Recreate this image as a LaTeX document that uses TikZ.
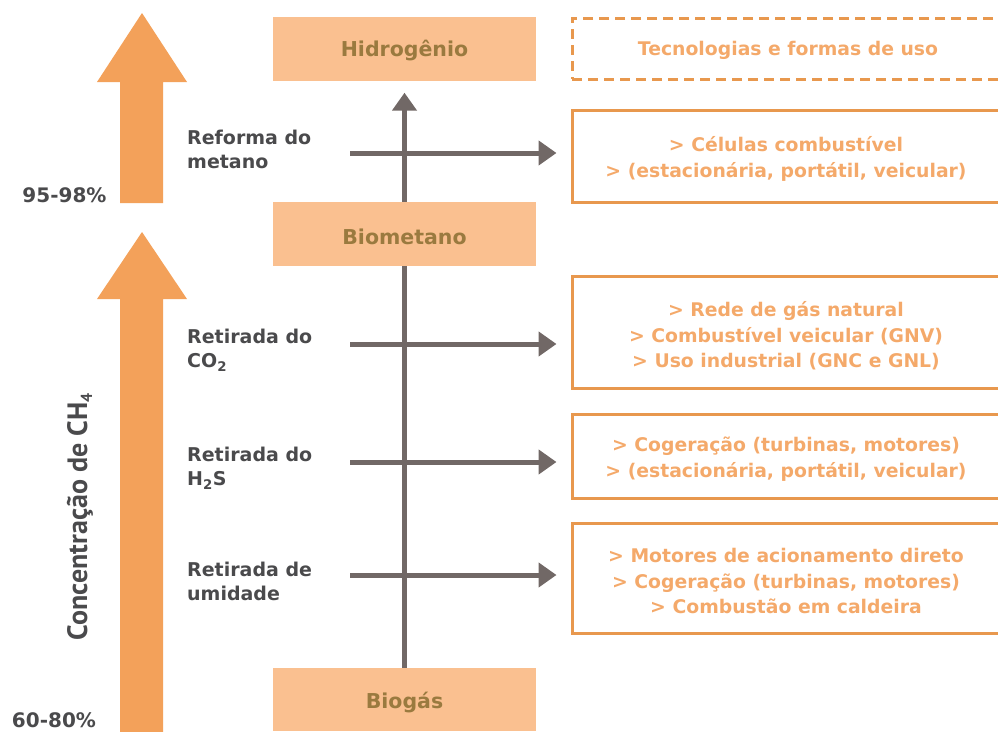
\documentclass[tikz,border=0pt]{standalone}
\usepackage{fontspec}
\setmainfont{DejaVu Sans}
\newfontfamily\concfont{PT Sans}
\usetikzlibrary{arrows.meta}
\definecolor{peach}{HTML}{FAC090}
\definecolor{peachtext}{HTML}{9A7A3F}
\definecolor{bigorange}{HTML}{F3A15A}
\definecolor{boxline}{HTML}{E8984E}
\definecolor{boxtext}{HTML}{F4A96A}
\definecolor{labelgray}{HTML}{4A4A4C}
\definecolor{conngray}{HTML}{716866}
\tikzset{
  stagebox/.style={fill=peach, draw=none, minimum width=263pt, minimum height=64pt, inner sep=0pt},
  stagetext/.style={inner sep=0pt, text=peachtext, font=\fontsize{20.5}{24}\selectfont\bfseries},
  usebox/.style={draw=boxline, line width=3pt, minimum width=428pt, inner sep=0pt},
  usetext/.style={inner sep=0pt, text=boxtext, align=center, font=\fontsize{18.8}{25.5}\selectfont\bfseries},
  steplabel/.style={anchor=west, align=left, text=labelgray, inner sep=0pt,
    font=\fontsize{19}{24}\selectfont\bfseries},
  pctlabel/.style={text=labelgray, inner sep=0pt, font=\fontsize{20}{22}\selectfont\bfseries},
  conn/.style={draw=conngray, line width=5pt},
  connarrow/.style={conn, -{Triangle[length=18pt,width=24pt]}},
  bigarrow/.style={fill=bigorange, draw=none}
}
\begin{document}
\begin{tikzpicture}[x=1pt,y=-1pt]
\useasboundingbox (0,0) rectangle (998,731);
% big orange arrows
\fill[bigarrow] (120,203) -- (120,82) -- (97,82) -- (142,13) -- (187,82) -- (163,82) -- (163,203) -- cycle;
\fill[bigarrow] (120,735) -- (120,299) -- (97,299) -- (142,232) -- (187,299) -- (163,299) -- (163,735) -- cycle;
\node[pctlabel] (p1) at (64.5,195) {95-98\%};
\node[pctlabel] (p2) at (54,720) {60-80\%};
\node[text=labelgray, rotate=90, inner sep=0pt, font=\concfont\bfseries\fontsize{28}{30}\selectfont] (conc) at (80,517) {Concentração de CH\raisebox{-0.35ex}{\fontsize{16}{16}\selectfont 4}};
% stages
\node[stagebox] (hid) at (404.5,48.5) {};
\node[stagebox] (biom) at (404.5,234) {};
\node[stagebox, minimum height=63pt] (biog) at (404.5,699.5) {};
\node[stagetext] (hidt) at ([yshift=-2pt]hid.center) {Hidrogênio};
\node[stagetext] (biomt) at ([yshift=-3pt]biom.center) {Biometano};
\node[stagetext] (biogt) at ([yshift=-3pt]biog.center) {Biogás};
% use boxes
\node[usebox, dashed, dash pattern=on 10pt off 6pt, minimum height=61pt] (tec) at (786,48.5) {};
\node[usebox, minimum height=92pt] (u1) at (786,156) {};
\node[usebox, minimum height=112pt] (u2) at (786,332) {};
\node[usebox, minimum height=84pt] (u3) at (786,456) {};
\node[usebox, minimum height=110pt] (u4) at (786,578) {};
\node[usetext] (tect) at ([xshift=2pt,yshift=-2pt]tec.center) {Tecnologias e formas de uso};
\node[usetext] (u1t) at ([yshift=-3pt]u1.center) {> Células combustível\\> (estacionária, portátil, veicular)};
\node[usetext] (u2t) at ([yshift=-4pt]u2.center) {> Rede de gás natural\\> Combustível veicular (GNV)\\> Uso industrial (GNC e GNL)};
\node[usetext] (u3t) at ([yshift=-3pt]u3.center) {> Cogeração (turbinas, motores)\\> (estacionária, portátil, veicular)};
\node[usetext] (u4t) at ([yshift=-3pt]u4.center) {> Motores de acionamento direto\\> Cogeração (turbinas, motores)\\> Combustão em caldeira};
% step labels
\node[steplabel] (l1) at (187,149) {Reforma do\\metano};
\node[steplabel] (l2) at (187,350) {Retirada do\\CO\textsubscript{2}};
\node[steplabel] (l3) at (187,468) {Retirada do\\H\textsubscript{2}S};
\node[steplabel] (l4) at (187,581) {Retirada de\\umidade};
% connectors
\draw[conn] (biog.north) -- (biom.south);
\draw[connarrow, shorten >=12pt] (biom.north) -- (hid.south);
\coordinate (s1) at (350,153);
\coordinate (s2) at (350,344);
\coordinate (s3) at (350,462);
\coordinate (s4) at (350,575);
\draw[connarrow, shorten >=14pt] (s1) -- (s1 -| u1.west);
\draw[connarrow, shorten >=14pt] (s2) -- (s2 -| u2.west);
\draw[connarrow, shorten >=14pt] (s3) -- (s3 -| u3.west);
\draw[connarrow, shorten >=14pt] (s4) -- (s4 -| u4.west);
\end{tikzpicture}
\end{document}
